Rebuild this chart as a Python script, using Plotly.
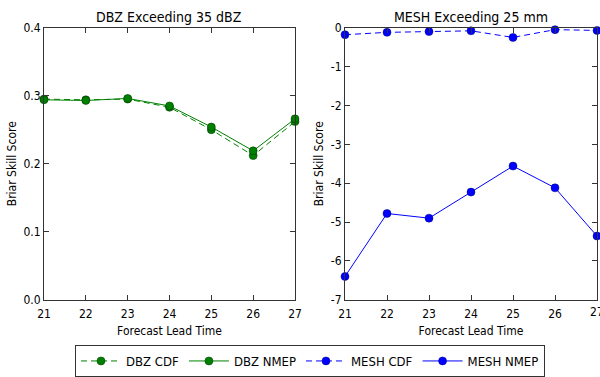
import plotly.graph_objects as go

lead_time = [21, 22, 23, 24, 25, 26, 27]
dbz_cdf = [0.295, 0.294, 0.295, 0.283, 0.250, 0.212, 0.262]
dbz_nmep = [0.294, 0.293, 0.296, 0.285, 0.254, 0.219, 0.266]
mesh_cdf = [-0.18, -0.12, -0.10, -0.08, -0.25, -0.05, -0.07]
mesh_nmep = [-6.40, -4.78, -4.90, -4.23, -3.56, -4.12, -5.36]

left_yticks = [0.0, 0.1, 0.2, 0.3, 0.4]
left_yticklabels = ["0.0", "0.1", "0.2", "0.3", "0.4"]
right_yticks = [0, -1, -2, -3, -4, -5, -6, -7]
right_yticklabels = ["0", "-1", "-2", "-3", "-4", "-5", "-6", "-7"]

GREEN = "#008000"
BLUE = "#0000ff"
FONT = "DejaVu Sans Condensed, DejaVu Sans"

fig = go.Figure()

def add(x, y, name, color, dash, xa, ya):
    fig.add_trace(go.Scatter(
        x=x, y=y, name=name, mode="lines+markers",
        line=dict(color=color, width=1, dash=dash),
        marker=dict(color=color, size=8, line=dict(color="#003300" if color == GREEN else "#000080", width=0.5)),
        xaxis=xa, yaxis=ya, cliponaxis=False,
    ))

add(lead_time, dbz_cdf, "DBZ CDF", GREEN, "6px,4px", "x", "y")
add(lead_time, dbz_nmep, "DBZ NMEP", GREEN, "solid", "x", "y")
add(lead_time, mesh_cdf, "MESH CDF", BLUE, "6px,4px", "x2", "y2")
add(lead_time, mesh_nmep, "MESH NMEP", BLUE, "solid", "x2", "y2")

ydom = [1 - 303 / 377, 1 - 28 / 377]
axis_common = dict(
    showline=True, linecolor="#333333", linewidth=1, mirror="ticks",
    ticks="inside", ticklen=5, tickcolor="#333333", showgrid=False, zeroline=False,
    tickfont=dict(family=FONT, size=12, color="black"), automargin=False,
)
xtitle = dict(text="Forecast Lead Time", font=dict(size=12), standoff=6)
ytitle = dict(text="Briar Skill Score", font=dict(size=12), standoff=4)

fig.update_layout(
    width=600, height=377,
    margin=dict(l=0, r=0, t=0, b=0),
    paper_bgcolor="white", plot_bgcolor="white",
    font=dict(family=FONT, size=12, color="black"),
    xaxis=dict(domain=[44 / 600, 295 / 600], range=[21, 27], tickvals=lead_time,
               ticklabelstandoff=3, title=xtitle, anchor="y", **axis_common),
    yaxis=dict(domain=ydom, range=[0, 0.4], tickvals=left_yticks, ticktext=left_yticklabels,
               title=ytitle, anchor="x", **axis_common),
    xaxis2=dict(domain=[345 / 600, 597 / 600], range=[21, 27], tickvals=lead_time,
                ticklabelstandoff=3, title=xtitle, anchor="y2", **axis_common),
    yaxis2=dict(domain=ydom, range=[-7, 0], tickvals=right_yticks, ticktext=right_yticklabels,
                title=ytitle, anchor="x2", **axis_common),
    legend=dict(
        orientation="h", x=310 / 600, xanchor="center", y=1 - 349 / 377, yanchor="top",
        bordercolor="#333333", borderwidth=1, bgcolor="white",
        font=dict(family=FONT, size=13, color="black"), itemwidth=40,
    ),
    annotations=[
        dict(text="DBZ Exceeding 35 dBZ", x=(44 + 295) / 2 / 600, y=1 - 17 / 377, xref="paper", yref="paper",
             xanchor="center", yanchor="middle",
             showarrow=False, font=dict(family=FONT, size=14, color="black")),
        dict(text="MESH Exceeding 25 mm", x=(345 + 597) / 2 / 600, y=1 - 17 / 377, xref="paper", yref="paper",
             xanchor="center", yanchor="middle",
             showarrow=False, font=dict(family=FONT, size=14, color="black")),
        # the last tick label of the right panel (partly cut by the page edge, as in the reference)
        dict(text=str(lead_time[-1]), x=lead_time[-1], xref="x2", y=ydom[0], yref="paper",
             xanchor="center", yanchor="top", yshift=-3,
             showarrow=False, font=dict(family=FONT, size=12, color="black")),
    ],
)

fig.write_html("out.html")
